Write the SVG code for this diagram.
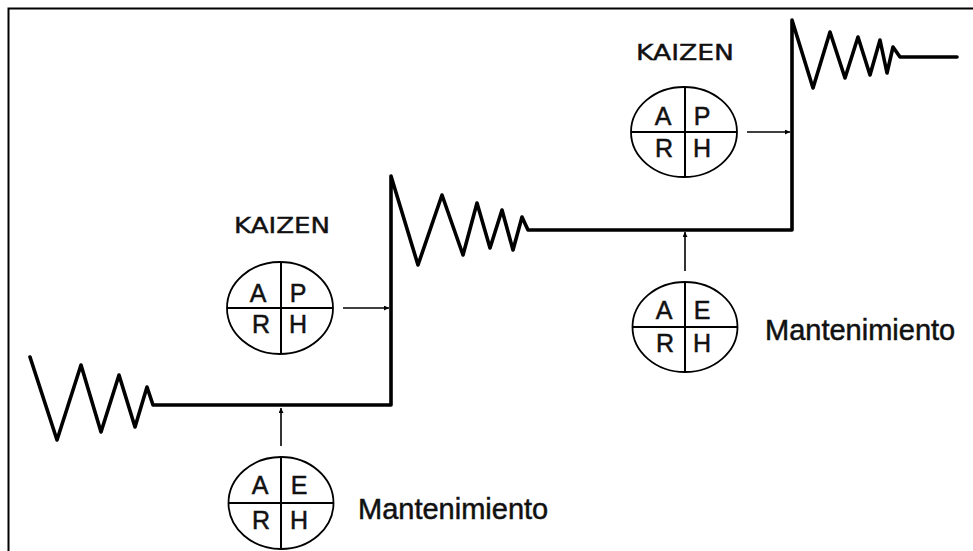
<svg xmlns="http://www.w3.org/2000/svg" width="973" height="551" viewBox="0 0 973 551">
<style>
.frame{fill:none;stroke:#000;stroke-width:2}
.trend{fill:none;stroke:#000;stroke-width:3.6;stroke-linejoin:round;stroke-linecap:round}
.ring{fill:none;stroke:#000;stroke-width:1.8}
.div{stroke:#000;stroke-width:2}
.arr{stroke:#000;stroke-width:1.6;fill:none}
.q{font-family:"Liberation Sans",Arial,sans-serif;font-size:25px;fill:#111;stroke:#111;stroke-width:0.5;text-anchor:middle}
.k{font-family:"DejaVu Sans","Liberation Sans",sans-serif;font-size:20.5px;fill:#111;stroke:#111;stroke-width:0.4;text-anchor:middle}
.m{font-family:"Liberation Sans",Arial,sans-serif;font-size:29px;fill:#111;stroke:#111;stroke-width:0.5}
</style>
<defs>
<marker id="ah" viewBox="0 0 10 10" refX="10" refY="5" markerWidth="7" markerHeight="5" markerUnits="userSpaceOnUse" orient="auto">
<path d="M0,0 L10,5 L0,10 Z" fill="#000"/>
</marker>
</defs>
<rect width="973" height="551" fill="#fff"/>
<polyline class="frame" points="8.5,551 8.5,8.5 973,8.5"/>

<g id="trend-line">
<path class="trend" d="M30,357 L57,440 L81,365 L101,432 L119,375 L135,427 L147,387 L153,405 L391,405 L391,176 L418,265 L442,195 L463,255 L477,203 L490,248 L502,210 L513,250 L522,217 L528,230 L792,230 L792,20 L813,88 L830,32 L845,78 L858,37 L870,75 L880,40 L887,73 L893,47 L900,57 L957,57"/>
</g>

<g id="connectors">
<line class="arr" x1="281" y1="446" x2="281" y2="408" marker-end="url(#ah)"/>
<line class="arr" x1="343" y1="308" x2="389" y2="308" marker-end="url(#ah)"/>
<line class="arr" x1="685" y1="271" x2="685" y2="232" marker-end="url(#ah)"/>
<line class="arr" x1="747" y1="132" x2="790" y2="132" marker-end="url(#ah)"/>
</g>

<g id="mantenimiento-1">
<ellipse class="ring" cx="281" cy="503" rx="52.5" ry="46"/>
<line class="div" x1="281" y1="457" x2="281" y2="549"/>
<line class="div" x1="228.5" y1="503" x2="333.5" y2="503"/>
<text class="q" x="260" y="494">A</text>
<text class="q" x="299" y="494">E</text>
<text class="q" x="261" y="529">R</text>
<text class="q" x="299" y="529">H</text>
<text class="m" x="358" y="519">Mantenimiento</text>
</g>

<g id="kaizen-1">
<text class="k" x="282" y="233" textLength="96" lengthAdjust="spacingAndGlyphs">KAIZEN</text>
<ellipse class="ring" cx="280" cy="308" rx="53" ry="46"/>
<line class="div" x1="281" y1="262" x2="281" y2="354"/>
<line class="div" x1="227" y1="308" x2="333" y2="308"/>
<text class="q" x="258" y="302">A</text>
<text class="q" x="298" y="302">P</text>
<text class="q" x="261" y="333">R</text>
<text class="q" x="298" y="333">H</text>
</g>

<g id="mantenimiento-2">
<ellipse class="ring" cx="685" cy="327" rx="52.5" ry="45"/>
<line class="div" x1="685" y1="282" x2="685" y2="372"/>
<line class="div" x1="632.5" y1="327" x2="737.5" y2="327"/>
<text class="q" x="664" y="319">A</text>
<text class="q" x="702" y="319">E</text>
<text class="q" x="665" y="352">R</text>
<text class="q" x="702" y="352">H</text>
<text class="m" x="765" y="340">Mantenimiento</text>
</g>

<g id="kaizen-2">
<text class="k" x="685" y="60" textLength="98" lengthAdjust="spacingAndGlyphs">KAIZEN</text>
<ellipse class="ring" cx="684" cy="132" rx="53" ry="45"/>
<line class="div" x1="685" y1="87" x2="685" y2="177"/>
<line class="div" x1="631" y1="132" x2="737" y2="132"/>
<text class="q" x="663" y="125">A</text>
<text class="q" x="702" y="125">P</text>
<text class="q" x="664" y="157">R</text>
<text class="q" x="702" y="157">H</text>
</g>
</svg>
